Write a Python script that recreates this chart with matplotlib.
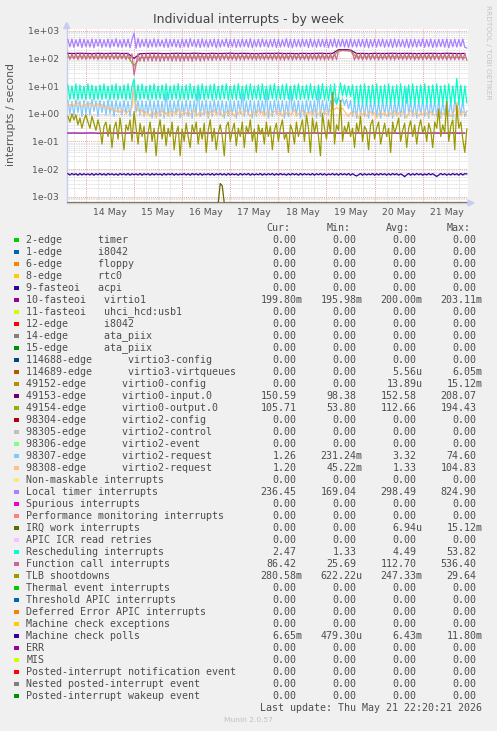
import numpy as np
import matplotlib
matplotlib.use("Agg")
import matplotlib.pyplot as plt
from matplotlib.patches import Rectangle, Polygon
from matplotlib.ticker import LogLocator, MultipleLocator, NullFormatter, FuncFormatter

W, H = 497, 731
YMIN, YMAX = 5.93e-4, 1.2e3

# time axis: hours since 14 May 00:00
hours = np.arange(-9, 191, 1.0)    # hourly samples (200)
hours3 = np.arange(-9, 191, 3.0)   # 3-hourly samples (67)
day_labels = ["14 May", "15 May", "16 May", "17 May", "18 May", "19 May", "20 May", "21 May"]

local_timer = [
    480, 260, 500, 250, 470, 270, 510, 245, 490, 265, 460, 255, 505, 240, 485, 275, 495, 250, 470, 260,
    500, 245, 480, 270, 515, 255, 465, 250, 490, 260, 500, 240, 475, 820, 230, 520, 250, 480, 265, 500,
    245, 470, 260, 510, 255, 490, 270, 460, 250, 505, 245, 480, 265, 495, 255, 470, 240, 500, 260, 485,
    250, 515, 270, 475, 255, 490, 245, 505, 260, 470, 250, 480, 265, 500, 240, 490, 255, 465, 270, 510,
    250, 485, 260, 495, 245, 475, 255, 500, 265, 480, 250, 510, 240, 470, 260, 490, 255, 505, 270, 465,
    250, 480, 260, 500, 245, 490, 255, 470, 265, 515, 250, 485, 240, 495, 260, 475, 255, 500, 270, 480,
    245, 505, 260, 470, 250, 490, 265, 485, 255, 500, 240, 480, 260, 510, 250, 475, 270, 495, 255, 485,
    245, 500, 260, 470, 255, 490, 265, 480, 250, 505, 240, 475, 260, 495, 255, 485, 270, 500, 250, 470,
    260, 490, 245, 505, 255, 480, 265, 470, 250, 500, 240, 485, 260, 495, 255, 475, 270, 510, 250, 480,
    260, 500, 245, 470, 255, 490, 265, 485, 250, 505, 240, 475, 260, 495, 255, 480, 270, 500, 250, 236,
]
function_call = [
    150, 92, 145, 95, 155, 90, 148, 93, 152, 91, 146, 94, 150, 92, 153, 90, 147, 95, 151, 92,
    149, 91, 154, 93, 146, 92, 150, 95, 148, 90, 152, 93, 145, 25, 60, 150, 80, 145, 78, 148,
    82, 150, 79, 146, 81, 152, 78, 148, 80, 145, 83, 150, 79, 147, 81, 152, 78, 149, 80, 146,
    82, 150, 79, 148, 84, 151, 80, 147, 82, 149, 85, 152, 83, 148, 86, 150, 84, 147, 88, 151,
    86, 149, 88, 152, 85, 148, 87, 150, 86, 147, 89, 151, 87, 149, 86, 152, 88, 148, 87, 150,
    89, 147, 86, 151, 88, 149, 87, 152, 85, 148, 88, 150, 86, 147, 89, 151, 87, 149, 88, 152,
    86, 148, 89, 150, 87, 147, 88, 151, 86, 149, 88, 152, 87, 148, 89, 190, 185, 195, 188, 192,
    186, 190, 150, 88, 148, 90, 152, 87, 149, 89, 151, 88, 147, 90, 150, 87, 152, 89, 148, 90,
    151, 88, 149, 87, 152, 90, 148, 89, 150, 88, 147, 90, 151, 87, 149, 89, 152, 88, 148, 90,
    150, 87, 149, 89, 152, 88, 148, 90, 151, 87, 150, 89, 147, 88, 152, 90, 149, 88, 150, 86,
]
rescheduling = [
    11, 3.2, 10, 3.4, 12, 3.1, 11, 3.3, 10, 3.2, 12, 3.4, 11, 3.1, 10, 3.3, 11, 3.2, 12, 3.4,
    10, 3.1, 11, 3.3, 12, 3.2, 10, 3.4, 11, 3.1, 12, 3.3, 10, 18, 3.0, 11, 3.2, 12, 3.4, 10,
    3.1, 11, 3.3, 12, 3.2, 10, 3.4, 11, 3.1, 12, 3.3, 10, 3.2, 11, 3.4, 12, 3.1, 10, 3.3, 11,
    3.2, 12, 3.4, 10, 3.1, 11, 3.3, 12, 3.2, 10, 3.4, 11, 3.1, 12, 3.3, 10, 3.2, 11, 3.4, 12,
    3.1, 10, 3.3, 11, 3.2, 12, 3.4, 10, 3.1, 11, 3.3, 12, 3.2, 10, 3.4, 11, 3.1, 12, 3.3, 10,
    3.2, 11, 3.4, 12, 3.1, 10, 3.3, 11, 3.2, 12, 3.4, 10, 3.1, 11, 3.3, 12, 3.2, 10, 3.4, 11,
    3.1, 12, 3.3, 10, 3.2, 11, 3.4, 12, 3.1, 10, 3.0, 11, 2.4, 12, 2.3, 4.2, 13, 4.3, 11, 4.1,
    10, 4.2, 11, 2.3, 10, 2.4, 11, 2.3, 12, 2.2, 10, 2.4, 11, 2.3, 12, 2.2, 10, 2.4, 11, 2.3,
    12, 2.2, 10, 2.4, 11, 2.3, 12, 2.2, 10, 2.4, 11, 2.3, 12, 2.2, 10, 2.4, 11, 2.3, 12, 2.2,
    10, 2.4, 11, 2.3, 12, 2.2, 10, 2.4, 11, 2.3, 12, 2.2, 10, 2.4, 19, 2.3, 11, 2.2, 10, 2.47,
]
virtio2_req_a = [
    3.0, 1.0, 2.8, 0.9, 3.2, 1.1, 2.9, 0.8, 3.1, 1.0, 2.7, 0.9, 3.3, 1.2, 2.9, 0.8, 3.0, 1.1, 2.8, 0.9,
    3.2, 1.0, 2.9, 0.8, 3.1, 1.1, 2.7, 0.9, 3.0, 1.0, 2.8, 0.8, 3.3, 12, 1.1, 2.9, 0.9, 3.0, 0.8, 2.8,
    1.0, 3.2, 0.7, 2.9, 0.9, 3.1, 0.8, 2.8, 0.7, 6.0, 0.9, 3.0, 0.8, 2.9, 1.0, 3.2, 0.7, 2.8, 0.9, 3.1,
    0.8, 2.9, 0.7, 3.0, 1.0, 8.0, 0.8, 2.9, 0.9, 3.1, 0.7, 2.8, 0.8, 3.2, 1.0, 2.9, 0.9, 3.0, 0.7, 2.8,
    0.8, 3.1, 0.9, 2.9, 0.7, 3.0, 1.0, 5.5, 0.8, 2.9, 0.9, 3.1, 0.7, 2.8, 0.8, 3.0, 1.0, 2.9, 0.9, 7.0,
    0.7, 2.8, 0.8, 3.1, 1.0, 2.9, 0.9, 3.0, 0.7, 2.8, 0.8, 9.0, 1.0, 2.9, 0.9, 3.0, 0.7, 2.8, 0.8, 3.1,
    1.0, 2.9, 0.9, 3.0, 0.7, 6.5, 0.8, 3.1, 1.0, 2.9, 0.9, 3.0, 1.8, 3.6, 2.2, 3.8, 2.5, 3.5, 2.0, 3.4,
    1.5, 3.0, 0.8, 2.8, 0.7, 3.0, 0.9, 2.7, 0.8, 3.1, 0.7, 2.9, 0.9, 3.0, 0.8, 2.8, 0.7, 3.1, 0.9, 2.9,
    0.8, 3.0, 0.7, 2.8, 0.9, 3.1, 0.8, 2.9, 0.7, 8.5, 0.9, 2.8, 0.8, 3.0, 0.7, 2.9, 0.9, 3.1, 0.8, 2.8,
    0.7, 3.0, 0.9, 2.9, 0.8, 3.1, 0.7, 2.8, 0.9, 3.0, 0.8, 2.9, 0.7, 3.1, 1.5, 2.8, 0.9, 3.0, 0.8, 1.26,
]
virtio2_req_b = [
    2.2, 2.0, 2.4, 1.9, 2.1, 2.5, 2.0, 1.8, 2.3, 2.1, 1.9, 2.4, 2.2, 1.7, 2.0, 2.3, 1.8, 2.1, 1.6, 1.9,
    1.5, 1.7, 1.3, 1.6, 1.2, 1.4, 1.1, 1.5, 1.3, 1.0, 1.2, 1.4, 1.6, 9.0, 2.0, 1.3, 1.1, 1.4, 0.9, 1.2,
    1.0, 0.8, 1.3, 1.1, 0.7, 1.2, 1.0, 1.4, 0.9, 1.1, 0.8, 1.3, 1.0, 1.2, 0.9, 1.5, 1.1, 0.8, 1.2, 1.0,
    1.3, 0.9, 1.1, 1.4, 0.8, 1.0, 1.2, 0.9, 1.3, 1.1, 0.8, 1.2, 1.0, 1.4, 0.9, 1.1, 1.3, 0.8, 1.0, 1.2,
    0.9, 1.3, 1.1, 0.8, 1.2, 1.0, 1.4, 0.9, 1.1, 1.3, 1.0, 0.8, 1.2, 1.1, 0.9, 1.4, 1.0, 1.2, 0.8, 1.1,
    1.3, 0.9, 1.0, 1.2, 1.4, 0.9, 1.1, 0.8, 1.3, 1.0, 1.2, 0.9, 1.1, 1.4, 0.8, 1.0, 1.2, 1.3, 0.9, 1.1,
    1.0, 1.2, 0.8, 1.3, 1.1, 0.9, 1.4, 1.0, 1.2, 0.9, 1.1, 1.3, 1.6, 1.4, 1.7, 1.5, 1.3, 1.6, 1.2, 1.0,
    0.8, 1.1, 0.9, 1.2, 1.0, 0.7, 1.1, 0.9, 1.3, 0.8, 1.0, 1.2, 0.9, 1.1, 0.7, 1.0, 1.3, 0.9, 1.1, 0.8,
    1.2, 1.0, 0.9, 1.3, 0.8, 1.1, 1.0, 1.2, 0.9, 0.7, 1.1, 1.3, 0.9, 1.0, 1.2, 0.8, 1.1, 0.9, 1.3, 1.0,
    0.8, 1.2, 1.0, 0.9, 1.1, 1.3, 0.8, 1.0, 1.2, 0.9, 1.1, 0.8, 1.0, 1.3, 2.5, 1.1, 0.9, 1.2, 1.0, 1.20,
]
tlb_shootdowns = [
    0.8, 0.5, 1.0, 0.6, 0.9, 0.4, 0.7, 0.3, 0.6, 0.9, 0.5, 0.3, 0.8, 0.45, 0.25, 0.6, 0.3, 0.08, 0.35, 0.5,
    0.15, 0.4, 0.06, 0.3, 0.5, 0.12, 0.7, 0.2, 0.05, 0.4, 0.25, 0.6, 0.1, 1.2, 0.3, 0.08, 0.45, 0.15, 0.35, 0.04,
    0.2, 0.5, 0.1, 0.3, 0.03, 0.25, 0.6, 0.12, 0.4, 0.07, 0.3, 0.15, 0.5, 0.05, 0.2, 0.35, 0.03, 0.28, 0.1, 0.45,
    0.15, 0.06, 0.4, 0.2, 0.5, 0.08, 0.3, 0.12, 0.45, 0.04, 0.25, 0.6, 0.1, 0.3, 0.05, 0.2, 0.4, 0.15, 0.03, 0.35,
    0.5, 0.1, 0.25, 0.45, 0.07, 0.3, 0.15, 0.5, 0.06, 0.35, 0.2, 0.6, 0.1, 0.28, 0.04, 0.4, 0.18, 0.3, 0.08, 0.5,
    0.15, 0.35, 0.05, 0.25, 0.45, 0.1, 0.3, 0.6, 0.12, 0.2, 0.04, 0.4, 0.25, 0.08, 0.5, 0.15, 0.3, 0.6, 0.1, 0.9,
    0.3, 0.04, 0.7, 0.2, 0.5, 0.15, 0.03, 1.0, 0.3, 0.12, 0.6, 0.2, 6.0, 0.08, 0.4, 0.25, 3.0, 0.1, 0.35, 0.2,
    0.5, 0.15, 0.3, 0.06, 0.45, 0.2, 0.8, 0.1, 0.35, 0.25, 0.05, 0.4, 0.6, 0.12, 0.3, 0.5, 0.08, 0.2, 0.45, 0.15,
    0.3, 0.04, 0.5, 0.2, 0.35, 0.7, 0.1, 0.25, 0.45, 0.06, 0.3, 0.55, 0.15, 0.4, 0.08, 0.3, 0.6, 0.2, 0.35, 0.1,
    0.45, 0.25, 0.06, 0.5, 0.3, 1.5, 0.15, 0.4, 0.2, 2.8, 0.1, 0.35, 0.6, 0.05, 2.0, 0.3, 0.5, 0.12, 0.04, 0.28,
]
machine_check_polls_m = [
    6.8, 6.1, 6.9, 6.2, 6.8, 6.0, 6.9, 6.1, 6.8, 6.2, 6.7, 6.1, 6.9, 6.0, 6.8, 6.2, 6.9, 6.1, 6.8, 6.0,
    6.9, 6.2, 6.8, 6.1, 6.7, 6.0, 6.9, 6.2, 6.8, 6.1, 6.9, 6.0, 6.8, 6.2, 6.7, 6.1, 6.9, 6.0, 6.8, 6.2,
    6.8, 6.0, 6.9, 6.1, 6.8, 6.2, 6.7, 6.0, 6.9, 6.1, 6.8, 6.2, 6.9, 6.0, 6.8, 6.1, 6.7, 6.2, 6.9, 6.1,
    6.8, 6.0, 6.9, 6.2, 6.8, 6.1, 6.9, 6.0, 6.7, 6.2, 6.8, 6.1, 6.9, 6.0, 6.8, 6.2, 6.9, 6.1, 6.8, 6.0,
    6.9, 6.1, 6.8, 6.2, 6.7, 6.0, 6.9, 6.1, 6.8, 6.2, 6.9, 6.0, 6.8, 6.1, 6.7, 6.2, 6.9, 6.0, 6.8, 6.1,
    6.8, 6.2, 6.9, 6.0, 6.8, 6.1, 6.9, 6.2, 6.7, 6.0, 6.8, 6.1, 6.9, 6.2, 6.8, 6.0, 6.9, 6.1, 6.8, 6.2,
    6.7, 6.1, 6.9, 6.0, 6.8, 6.2, 6.9, 6.1, 6.8, 6.0, 6.7, 6.2, 6.9, 6.1, 6.8, 6.0, 6.9, 6.2, 6.8, 6.1,
    6.9, 6.0, 6.8, 6.1, 5.6, 6.2, 6.9, 6.0, 6.8, 6.1, 6.7, 6.2, 6.9, 6.0, 6.8, 6.1, 6.9, 6.2, 6.8, 6.0,
    6.8, 6.1, 6.9, 6.2, 6.8, 6.0, 6.7, 6.1, 5.3, 6.2, 6.9, 6.0, 6.8, 6.1, 6.9, 6.2, 6.8, 6.0, 6.7, 6.1,
    6.9, 6.2, 6.8, 6.0, 5.4, 6.1, 6.9, 6.2, 6.8, 6.0, 6.7, 6.1, 6.9, 6.2, 6.8, 6.0, 6.9, 6.1, 6.8, 6.65,
]

# 3-hourly series
virtio0_input = [
    152, 150, 153, 151, 149, 152, 150, 151, 153, 150,
    151, 100, 148, 150, 152, 151, 149, 150, 152, 151,
    150, 153, 151, 149, 152, 150, 151, 153, 150, 152,
    151, 149, 150, 152, 151, 153, 150, 151, 149, 152,
    150, 151, 153, 150, 152, 205, 208, 200, 150, 151,
    149, 152, 150, 151, 153, 150, 152, 151, 149, 150,
    152, 151, 150, 153, 151, 149, 151,
]
virtio0_output = [
    112, 110, 114, 111, 113, 109, 112, 115, 110, 113,
    111, 54, 105, 108, 110, 112, 109, 111, 113, 110,
    112, 109, 114, 111, 110, 113, 112, 109, 111, 114,
    110, 112, 113, 109, 111, 112, 110, 114, 111, 109,
    112, 110, 113, 111, 112, 190, 194, 185, 112, 110,
    113, 111, 109, 112, 114, 110, 111, 113, 109, 112,
    110, 113, 111, 112, 109, 111, 106,
]
virtio1_m = [
    200, 201, 199, 200, 202, 198, 200, 201, 199, 200,
    200, 203, 196, 200, 201, 199, 200, 202, 199, 200,
    201, 199, 200, 200, 202, 198, 200, 201, 199, 200,
    200, 201, 199, 200, 202, 199, 200, 200, 201, 199,
    200, 202, 198, 200, 201, 199, 200, 200, 201, 199,
    200, 202, 199, 200, 201, 198, 200, 200, 201, 199,
    200, 201, 199, 200, 202, 199, 199.8,
]

# IRQ work: one short burst on 16 May, zero elsewhere
irq_work_hours = [-9, 66, 67, 68, 69, 190]
irq_work = [0, 0, 0.003, 0.0025, 0, 0]

names = [
    "2-edge      timer", "1-edge      i8042", "6-edge      floppy", "8-edge      rtc0",
    "9-fasteoi   acpi", "10-fasteoi   virtio1", "11-fasteoi   uhci_hcd:usb1",
    "12-edge      i8042", "14-edge      ata_piix", "15-edge      ata_piix",
    "114688-edge      virtio3-config", "114689-edge      virtio3-virtqueues",
    "49152-edge      virtio0-config", "49153-edge      virtio0-input.0",
    "49154-edge      virtio0-output.0", "98304-edge      virtio2-config",
    "98305-edge      virtio2-control", "98306-edge      virtio2-event",
    "98307-edge      virtio2-request", "98308-edge      virtio2-request",
    "Non-maskable interrupts", "Local timer interrupts", "Spurious interrupts",
    "Performance monitoring interrupts", "IRQ work interrupts", "APIC ICR read retries",
    "Rescheduling interrupts", "Function call interrupts", "TLB shootdowns",
    "Thermal event interrupts", "Threshold APIC interrupts", "Deferred Error APIC interrupts",
    "Machine check exceptions", "Machine check polls", "ERR", "MIS",
    "Posted-interrupt notification event", "Nested posted-interrupt event",
    "Posted-interrupt wakeup event",
]
colors = [
    "#00CC00", "#0066B3", "#FF8000", "#FFCC00", "#330099", "#990099", "#CCFF00", "#FF0000",
    "#808080", "#008F00", "#00487D", "#B35A00", "#B38F00", "#6B006B", "#8FB300", "#B30000",
    "#BEBEBE", "#80FF80", "#80C9FF", "#FFC080", "#FFE680", "#AA80FF", "#EE00CC", "#FF8080",
    "#666600", "#FFBFFF", "#00FFCC", "#CC6699", "#999900", "#00CC00", "#0066B3", "#FF8000",
    "#FFCC00", "#330099", "#990099", "#CCFF00", "#FF0000", "#808080", "#008F00",
]
Z = "0.00"
cur_vals = [Z, Z, Z, Z, Z, "199.80m", Z, Z, Z, Z, Z, Z, Z, "150.59", "105.71", Z, Z, Z, "1.26", "1.20",
            Z, "236.45", Z, Z, Z, Z, "2.47", "86.42", "280.58m", Z, Z, Z, Z, "6.65m", Z, Z, Z, Z, Z]
min_vals = [Z, Z, Z, Z, Z, "195.98m", Z, Z, Z, Z, Z, Z, Z, "98.38", "53.80", Z, Z, Z, "231.24m", "45.22m",
            Z, "169.04", Z, Z, Z, Z, "1.33", "25.69", "622.22u", Z, Z, Z, Z, "479.30u", Z, Z, Z, Z, Z]
avg_vals = [Z, Z, Z, Z, Z, "200.00m", Z, Z, Z, Z, Z, "5.56u", "13.89u", "152.58", "112.66", Z, Z, Z, "3.32", "1.33",
            Z, "298.49", Z, Z, "6.94u", Z, "4.49", "112.70", "247.33m", Z, Z, Z, Z, "6.43m", Z, Z, Z, Z, Z]
max_vals = [Z, Z, Z, Z, Z, "203.11m", Z, Z, Z, Z, Z, "6.05m", "15.12m", "208.07", "194.43", Z, Z, Z, "74.60", "104.83",
            Z, "824.90", Z, Z, "15.12m", Z, "53.82", "536.40", "29.64", Z, Z, Z, Z, "11.80m", Z, Z, Z, Z, Z]
col_headers = ["Cur:", "Min:", "Avg:", "Max:"]

series = {
    "10-fasteoi   virtio1": (hours3, np.array(virtio1_m) / 1000.0),
    "49153-edge      virtio0-input.0": (hours3, virtio0_input),
    "49154-edge      virtio0-output.0": (hours3, virtio0_output),
    "Local timer interrupts": (hours, local_timer),
    "IRQ work interrupts": (irq_work_hours, irq_work),
    "Rescheduling interrupts": (hours, rescheduling),
    "Function call interrupts": (hours, function_call),
    "TLB shootdowns": (hours, tlb_shootdowns),
    "Machine check polls": (hours, np.array(machine_check_polls_m) / 1000.0),
}

fig = plt.figure(figsize=(W / 100, H / 100), dpi=100, facecolor="#F0F0F0")
ax = fig.add_axes([66.7 / W, 1 - 203 / H, (468 - 66.7) / W, (203 - 28.5) / H])
ax.set_facecolor("white")
ax.set_yscale("log")
ax.set_xlim(-9.6, 190.6)
ax.set_ylim(YMIN, YMAX)

for i, (name, c) in enumerate(zip(names, colors)):
    if i == 18:
        t, v = hours, virtio2_req_a
    elif i == 19:
        t, v = hours, virtio2_req_b
    elif name in series:
        t, v = series[name]
    else:
        t, v = [hours[0], hours[-1]], [0, 0]
    # zero values sit on the bottom edge, as rrdtool draws them on a log scale
    v = np.clip(np.asarray(v, float), YMIN, None)
    ax.plot(t, v, color=c, lw=0.9, zorder=3 + i * 0.01)

ax.yaxis.set_major_locator(LogLocator(base=10, numticks=12))
ax.yaxis.set_minor_locator(LogLocator(base=10, subs=np.arange(2, 10), numticks=12))
ax.yaxis.set_major_formatter(FuncFormatter(lambda v, p: f"{v:.0e}"))
ax.yaxis.set_minor_formatter(NullFormatter())
ax.xaxis.set_major_locator(MultipleLocator(24))
ax.xaxis.set_minor_locator(MultipleLocator(6))
ax.xaxis.set_major_formatter(NullFormatter())


def day_fmt(t, p):
    d, r = divmod(int(round(t)), 24)
    if r == 12 and 0 <= d < len(day_labels):
        return day_labels[d]
    return ""


ax.xaxis.set_minor_formatter(FuncFormatter(day_fmt))
ax.set_axisbelow(True)
ax.grid(which="major", color="#E6A8A8", ls=(0, (1, 1)), lw=0.7)
ax.grid(which="minor", color="#D2D2D2", ls=(0, (1, 1)), lw=0.6)
ax.tick_params(which="both", length=0, colors="#555555", labelsize=6.7)
ax.tick_params(axis="y", pad=5.5)
ax.tick_params(axis="x", which="minor", pad=3.5)
for s in ["top", "right"]:
    ax.spines[s].set_visible(False)
for s in ["left", "bottom"]:
    ax.spines[s].set_color("#C8CCEE")
    ax.spines[s].set_linewidth(1.0)

# overlay in pixel coordinates for text and legend
ov = fig.add_axes([0, 0, 1, 1])
ov.set_xlim(0, W)
ov.set_ylim(H, 0)
ov.axis("off")
ov.add_patch(Polygon([[63.7, 28.5], [69.7, 28.5], [66.7, 22.5]], closed=True, color="#C8CCEE"))
ov.add_patch(Polygon([[468, 200], [468, 206], [474, 203]], closed=True, color="#C8CCEE"))

ov.text(248, 19.3, "Individual interrupts - by week", ha="center", va="center",
        fontsize=9, color="#444444")
ov.text(10.7, 115, "interrupts / second", ha="center", va="center", rotation=90,
        fontsize=7.8, color="#555555")
ov.text(487.7, 52.5, "RRDTOOL / TOBI OETIKER", ha="center", va="center", rotation=270,
        fontsize=5.3, color="#C4C4C4")

# legend: monospace grid, 6 px per character
mono = dict(family="DejaVu Sans Mono", fontsize=7.175, color="#4D4D4D", va="center", ha="left")
x0, y0, dy, cw = 26.3, 240.0, 12.0, 6.0
col_end = [46, 56, 66, 76]


def put(col, y, s):
    ov.text(x0 + col * cw, y, s, **mono)


for j, hdr in enumerate(col_headers):
    put(col_end[j] - 2 - len(hdr), y0 - dy, hdr)
for i, name in enumerate(names):
    y = y0 + i * dy
    ov.add_patch(Rectangle((14, y - 2.4), 4.8, 4.8, color=colors[i], lw=0))
    put(0, y, name)
    for j, vals in enumerate([cur_vals, min_vals, avg_vals, max_vals]):
        s = vals[i]
        end = col_end[j] if s[-1] in "mu" else col_end[j] - 1
        put(end - len(s), y, s)
footer = "Last update: Thu May 21 22:20:21 2026"
put(col_end[-1] - len(footer), y0 + len(names) * dy, footer)
ov.text(248, 719.5, "Munin 2.0.57", ha="center", va="center", fontsize=5.4, color="#C0C0C0")

fig.savefig("out.png", dpi=100, facecolor=fig.get_facecolor())
